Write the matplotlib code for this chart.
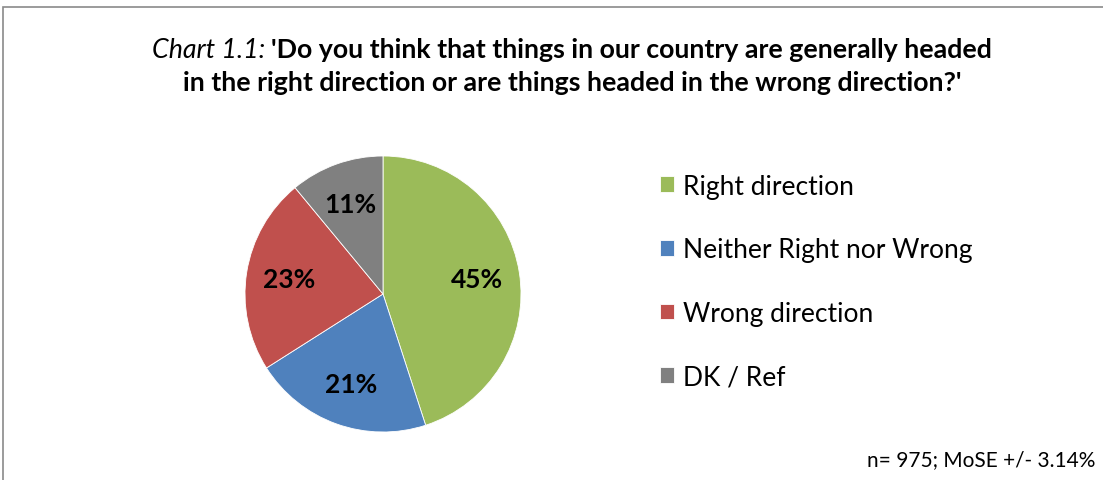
import matplotlib
matplotlib.use("Agg")
import matplotlib.pyplot as plt
from matplotlib.patches import Rectangle

# survey answers, clockwise from 12 o'clock
labels = ["Right direction", "Neither Right nor Wrong", "Wrong direction", "DK / Ref"]
shares = [45, 21, 23, 11]
colors = ["#9BBB59", "#4F81BD", "#C0504D", "#808080"]

title_lead = "Chart 1.1: "
title_line1 = "'Do you think that things in our country are generally headed"
title_line2 = "in the right direction or are things headed in the wrong direction?'"
footnote = "n= 975; MoSE +/- 3.14%"

W, H = 1103, 481
plt.rcParams['font.family'] = ['Lato', 'DejaVu Sans']

fig = plt.figure(figsize=(W / 100, H / 100), dpi=100)

# outer chart frame (runs off the right and bottom edges)
fig.patches.append(Rectangle((3 / W, -0.1), 1.2, 1 - 8 / H + 0.1, transform=fig.transFigure,
                             fill=False, edgecolor="#8a8a8a", linewidth=1.2))

# pie axes: centre (383, 295) px, radius ~138 px
r = 138
ax = fig.add_axes([(383 - r) / W, (H - 295 - r) / H, 2 * r / W, 2 * r / H])
wedges, _, autotexts = ax.pie(shares, colors=colors, startangle=90, counterclock=False,
                              autopct=lambda p: f"{p:.0f}%", pctdistance=0.69,
                              wedgeprops=dict(edgecolor="white", linewidth=0.6),
                              textprops=dict(fontsize=19, fontweight="bold", color="black"))
ax.set_xlim(-1, 1)
ax.set_ylim(-1, 1)
ax.set_aspect("equal")
ax.axis("off")

# title: italic lead-in followed by bold question, centred as one line
fig.canvas.draw()
renderer = fig.canvas.get_renderer()
tsize = 19.3
t1 = fig.text(0, 0, title_lead, fontsize=tsize, fontstyle="italic", va="center")
t2 = fig.text(0, 0, title_line1, fontsize=tsize, fontweight="bold", va="center")
w1 = t1.get_window_extent(renderer).width
w2 = t2.get_window_extent(renderer).width
cx, y1 = 572, H - 50
x0 = cx - (w1 + w2) / 2
t1.set_position((x0 / W, y1 / H))
t2.set_position(((x0 + w1) / W, y1 / H))
fig.text(cx / W, (H - 83) / H, title_line2, fontsize=tsize, fontweight="bold",
         ha="center", va="center")

# legend
leg = fig.legend(wedges, labels, loc="upper left", bbox_to_anchor=(649 / W, (H - 164) / H),
                 frameon=False, fontsize=19, handlelength=0.55, handleheight=0.55,
                 handletextpad=0.34, labelspacing=1.465, borderaxespad=0)

fig.text(1095 / W, (H - 460) / H, footnote, fontsize=15, ha="right", va="center")

fig.savefig("out.png", dpi=100)
